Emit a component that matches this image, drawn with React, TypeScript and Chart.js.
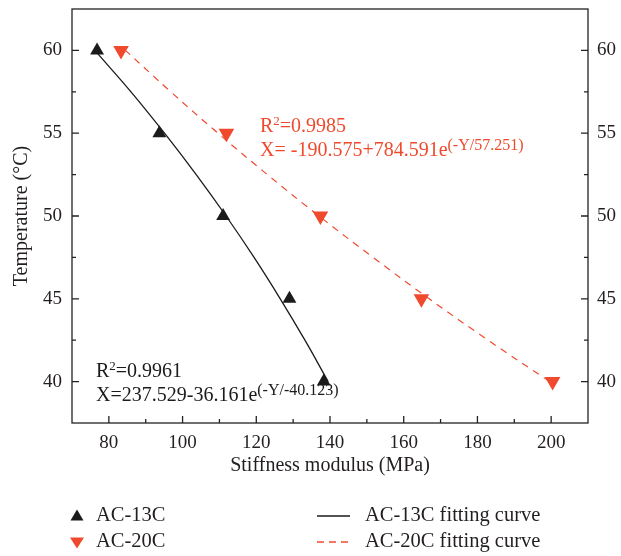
import React, { useEffect, useRef } from "react";
import { Chart, registerables } from "chart.js";

Chart.register(...registerables);

// ---- data ----
const temperatures = [40, 45, 50, 55, 60];
const ac13cModulus = [138.3, 129.0, 111.0, 93.7, 76.8];
const ac20cModulus = [200.4, 164.8, 137.4, 111.9, 83.3];

const fitTemperatures = [40, 42.5, 45, 47.5, 50, 52.5, 55, 57.5, 60];
const ac13cFit = [139.5, 133.2, 126.5, 119.4, 111.8, 103.7, 95.1, 86.0, 76.2];
const ac20cFit = [199.6, 182.9, 166.9, 151.7, 137.0, 123.0, 109.6, 96.8, 84.5];

const xTicks = [80, 100, 120, 140, 160, 180, 200];
const xMinorTicks = [90, 110, 130, 150, 170, 190];
const yTicks = [40, 45, 50, 55, 60];
const yMinorTicks = [42.5, 47.5, 52.5, 57.5];

const X_MIN = 70;
const X_MAX = 210;
const Y_MIN = 37.5;
const Y_MAX = 62.5;

const FONT = '"Liberation Serif", "Times New Roman", serif';
const RED = "#EF4A2D";
const BLACK = "#1b1b1b";
const TEXT = "#231F20";

type Part = { text: string; size?: number; rise?: number };

function drawRich(ctx: CanvasRenderingContext2D, x: number, y: number, parts: Part[], color: string) {
  ctx.save();
  ctx.fillStyle = color;
  ctx.textBaseline = "alphabetic";
  ctx.textAlign = "left";
  let cx = x;
  for (const p of parts) {
    const size = p.size ?? 20;
    ctx.font = `${size}px ${FONT}`;
    ctx.fillText(p.text, cx, y - (p.rise ?? 0));
    cx += ctx.measureText(p.text).width;
  }
  ctx.restore();
}

const framePlugin = {
  id: "frameTicks",
  afterDraw(chart: any) {
    const { ctx, chartArea, scales } = chart;
    const { left, right, top, bottom } = chartArea;
    ctx.save();
    ctx.strokeStyle = "#222";
    ctx.lineWidth = 1.3;
    ctx.strokeRect(left, top, right - left, bottom - top);
    ctx.beginPath();
    for (const v of xTicks) {
      const px = scales.x.getPixelForValue(v);
      ctx.moveTo(px, bottom);
      ctx.lineTo(px, bottom - 7);
    }
    for (const v of xMinorTicks) {
      const px = scales.x.getPixelForValue(v);
      ctx.moveTo(px, bottom);
      ctx.lineTo(px, bottom - 4);
    }
    for (const v of yTicks) {
      const py = scales.y.getPixelForValue(v);
      ctx.moveTo(left, py);
      ctx.lineTo(left + 7, py);
      ctx.moveTo(right, py);
      ctx.lineTo(right - 7, py);
    }
    for (const v of yMinorTicks) {
      const py = scales.y.getPixelForValue(v);
      ctx.moveTo(left, py);
      ctx.lineTo(left + 4, py);
      ctx.moveTo(right, py);
      ctx.lineTo(right - 4, py);
    }
    ctx.stroke();
    ctx.restore();
  },
};

const textPlugin = {
  id: "annotTexts",
  afterDraw(chart: any) {
    const ctx: CanvasRenderingContext2D = chart.ctx;
    // red fit annotation
    drawRich(ctx, 260, 132, [{ text: "R" }, { text: "2", size: 13, rise: 7 }, { text: "=0.9985" }], RED);
    drawRich(ctx, 260, 156, [{ text: "X= -190.575+784.591e" }, { text: "(-Y/57.251)", size: 16, rise: 6 }], RED);
    // black fit annotation
    drawRich(ctx, 96, 377, [{ text: "R" }, { text: "2", size: 13, rise: 7 }, { text: "=0.9961" }], BLACK);
    drawRich(ctx, 96, 401, [{ text: "X=237.529-36.161e" }, { text: "(-Y/-40.123)", size: 16, rise: 6 }], BLACK);

    // legend
    ctx.save();
    const r1 = 516;
    const r2 = 542;
    ctx.fillStyle = BLACK;
    ctx.beginPath();
    ctx.moveTo(77, r1 - 6.5);
    ctx.lineTo(83.5, r1 + 4.5);
    ctx.lineTo(70.5, r1 + 4.5);
    ctx.closePath();
    ctx.fill();
    ctx.fillStyle = RED;
    ctx.beginPath();
    ctx.moveTo(77, r2 + 6.5);
    ctx.lineTo(84, r2 - 4.5);
    ctx.lineTo(70, r2 - 4.5);
    ctx.closePath();
    ctx.fill();
    ctx.lineWidth = 1.3;
    ctx.strokeStyle = BLACK;
    ctx.beginPath();
    ctx.moveTo(317, r1);
    ctx.lineTo(350, r1);
    ctx.stroke();
    ctx.strokeStyle = RED;
    ctx.setLineDash([7, 5]);
    ctx.beginPath();
    ctx.moveTo(317, r2);
    ctx.lineTo(350, r2);
    ctx.stroke();
    ctx.setLineDash([]);
    ctx.restore();

    ctx.save();
    ctx.fillStyle = TEXT;
    ctx.font = `20.5px ${FONT}`;
    ctx.textBaseline = "middle";
    ctx.textAlign = "left";
    ctx.fillText("AC-13C", 96, r1);
    ctx.fillText("AC-20C", 96, r2);
    ctx.fillText("AC-13C fitting curve", 365, r1);
    ctx.fillText("AC-20C fitting curve", 365, r2);
    ctx.restore();
  },
};

const zeroPad = (s: any) => {
  s.paddingTop = 0;
  s.paddingBottom = 0;
};

export default function App() {
  const canvasRef = useRef<HTMLCanvasElement | null>(null);

  useEffect(() => {
    document.body.style.margin = "0";
    const canvas = canvasRef.current;
    if (!canvas) return;

    const tickFont = { family: FONT, size: 19 };
    const titleFont = { family: FONT, size: 20 };

    const chart = new Chart(canvas, {
      type: "scatter",
      data: {
        datasets: [
          {
            label: "AC-13C fitting curve",
            data: fitTemperatures.map((t, i) => ({ x: ac13cFit[i], y: t })),
            showLine: true,
            borderColor: BLACK,
            borderWidth: 1.3,
            pointRadius: 0,
            tension: 0.4,
            fill: false,
          },
          {
            label: "AC-20C fitting curve",
            data: fitTemperatures.map((t, i) => ({ x: ac20cFit[i], y: t })),
            showLine: true,
            borderColor: RED,
            borderWidth: 1.2,
            borderDash: [7, 6],
            pointRadius: 0,
            tension: 0.4,
            fill: false,
          },
          {
            label: "AC-13C",
            data: temperatures.map((t, i) => ({ x: ac13cModulus[i], y: t })),
            pointStyle: "triangle",
            pointRadius: 8,
            backgroundColor: BLACK,
            borderColor: BLACK,
            borderWidth: 0,
            showLine: false,
          },
          {
            label: "AC-20C",
            data: temperatures.map((t, i) => ({ x: ac20cModulus[i], y: t })),
            pointStyle: "triangle",
            pointRotation: 180,
            pointRadius: 9,
            backgroundColor: RED,
            borderColor: RED,
            borderWidth: 0,
            showLine: false,
          },
        ],
      },
      options: {
        responsive: false,
        animation: false,
        devicePixelRatio: 1,
        layout: { padding: { top: 7, left: 0, right: 0, bottom: 0 } },
        plugins: {
          legend: { display: false },
          tooltip: { enabled: false },
        },
        scales: {
          x: {
            type: "linear",
            position: "bottom",
            min: X_MIN,
            max: X_MAX,
            afterBuildTicks: (s: any) => {
              s.ticks = xTicks.map((v) => ({ value: v }));
            },
            afterFit: (s: any) => {
              s.height = 133;
              s.paddingLeft = 0;
              s.paddingRight = 0;
            },
            grid: { display: false, drawTicks: false },
            border: { display: false },
            ticks: { font: tickFont, color: TEXT, padding: 9, maxRotation: 0, autoSkip: false },
            title: {
              display: true,
              text: "Stiffness modulus (MPa)",
              font: titleFont,
              color: TEXT,
              padding: { top: 0, bottom: 78 },
            },
          },
          y: {
            type: "linear",
            position: "left",
            min: Y_MIN,
            max: Y_MAX,
            afterBuildTicks: (s: any) => {
              s.ticks = yTicks.map((v) => ({ value: v }));
            },
            afterFit: (s: any) => {
              s.width = 72;
              zeroPad(s);
            },
            grid: { display: false, drawTicks: false },
            border: { display: false },
            ticks: { font: tickFont, color: TEXT, padding: 10, autoSkip: false },
            title: {
              display: true,
              text: "Temperature (°C)",
              font: titleFont,
              color: TEXT,
              padding: { top: 10, bottom: 0 },
            },
          },
          y2: {
            type: "linear",
            position: "right",
            min: Y_MIN,
            max: Y_MAX,
            afterBuildTicks: (s: any) => {
              s.ticks = yTicks.map((v) => ({ value: v }));
            },
            afterFit: (s: any) => {
              s.width = 33;
              zeroPad(s);
            },
            grid: { display: false, drawTicks: false },
            border: { display: false },
            ticks: { font: tickFont, color: TEXT, padding: 9, autoSkip: false },
          },
        },
      },
      plugins: [framePlugin, textPlugin],
    } as any);

    return () => chart.destroy();
  }, []);

  return (
    <div style={{ width: 621, height: 556, overflow: "hidden" }}>
      <canvas ref={canvasRef} width={621} height={556} style={{ display: "block" }} />
    </div>
  );
}
